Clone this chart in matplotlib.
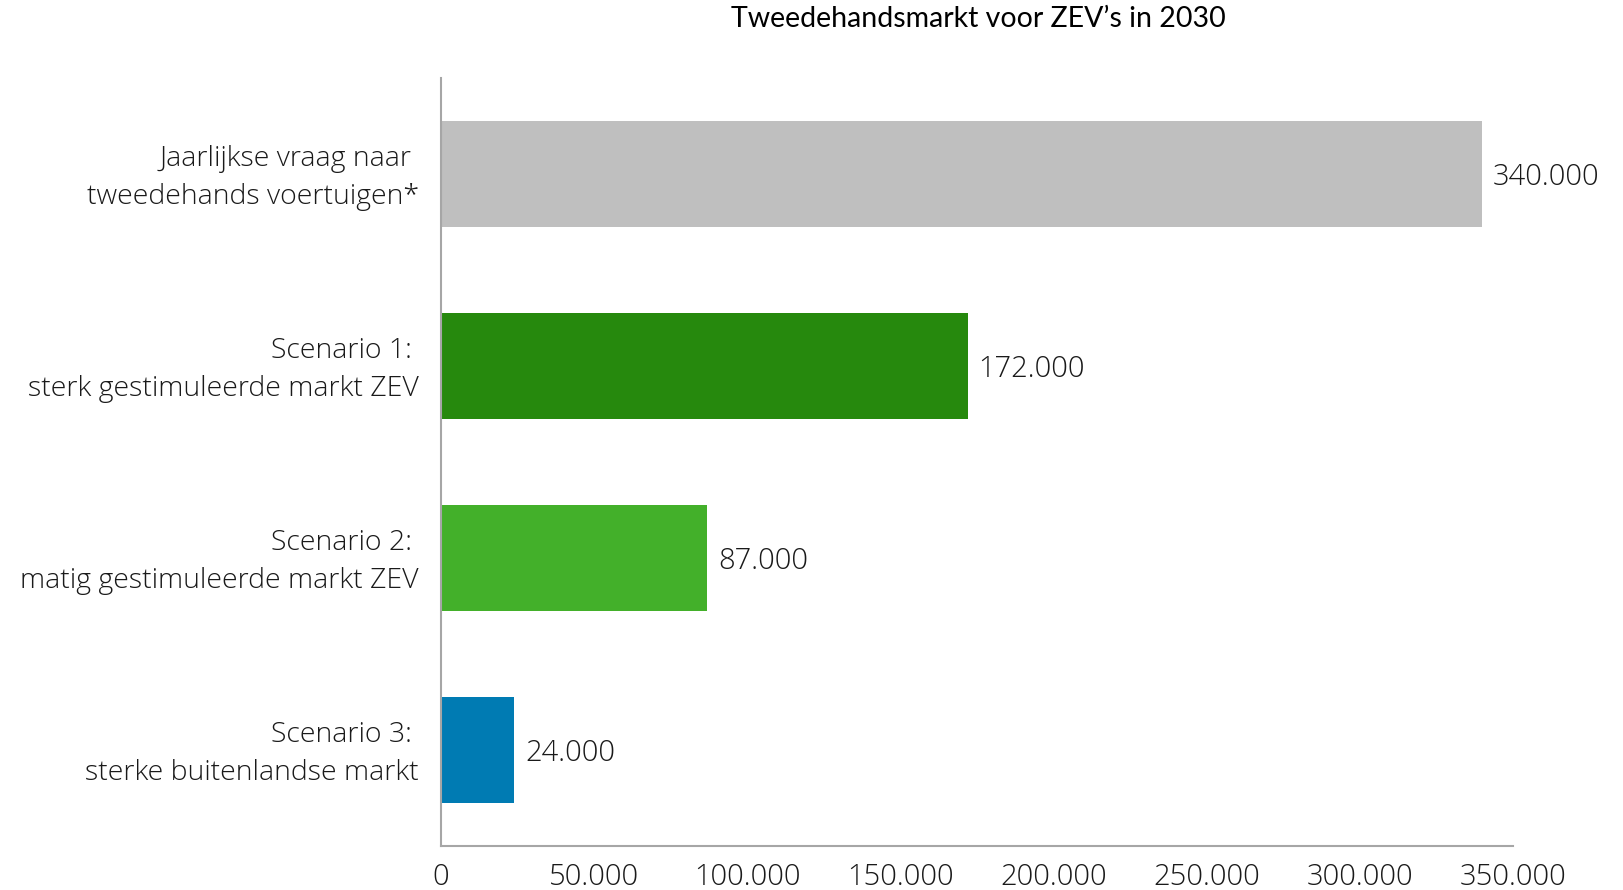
import matplotlib
matplotlib.use("Agg")
import matplotlib.pyplot as plt
import matplotlib.transforms as mtransforms
from matplotlib.ticker import FuncFormatter

categories = [
    "Jaarlijkse vraag naar \ntweedehands voertuigen*",
    "Scenario 1: \nsterk gestimuleerde markt ZEV",
    "Scenario 2: \nmatig gestimuleerde markt ZEV",
    "Scenario 3: \nsterke buitenlandse markt",
]
values = [340000, 172000, 87000, 24000]
value_labels = ["340.000", "172.000", "87.000", "24.000"]
colors = ["#BFBFBF", "#26890D", "#43B02A", "#007BB3"]
xticks = [0, 50000, 100000, 150000, 200000, 250000, 300000, 350000]
title = "Tweedehandsmarkt voor ZEV\u2019s in 2030"

plt.rcParams['font.family'] = ['Open Sans', 'DejaVu Sans']

fig = plt.figure(figsize=(16.23, 8.90), dpi=100)
ax = fig.add_axes([0.2717, 0.0494, 0.9322 - 0.2717, 0.9124 - 0.0494])

ypos = list(range(len(categories)))
ax.barh(ypos, values, height=0.555, color=colors, zorder=2)
for y, v, lab in zip(ypos, values, value_labels):
    ax.annotate(lab, (v, y), xytext=(7.5, -2.5), textcoords="offset points",
                ha="left", va="center", fontsize=21, color="#1a1a1a", fontweight="light")

ax.set_ylim(3.5, -0.5)
ax.set_xlim(0, 350000)
ax.set_yticks(ypos)
ax.set_yticklabels([])
# category labels as text, positioned with the y-axis transform
lab_trans = ax.get_yaxis_transform() + mtransforms.ScaledTranslation(
    -22 / 100, -4 / 100, fig.dpi_scale_trans)
for y, cat in zip(ypos, categories):
    ax.text(0, y, cat, transform=lab_trans, ha="right", va="center",
            multialignment="right", fontsize=20.5, color="#1a1a1a",
            fontweight="light", linespacing=1.45)

ax.set_xticks(xticks)
ax.xaxis.set_major_formatter(FuncFormatter(lambda x, p: f"{int(x):,}".replace(",", ".")))
for t in ax.get_xticklabels():
    t.set_fontsize(21)
    t.set_color("#1a1a1a")
    t.set_fontweight("light")
ax.tick_params(axis="y", length=0, pad=16)
ax.tick_params(axis="x", length=0, pad=12)

for s in ["top", "right"]:
    ax.spines[s].set_visible(False)
for s in ["left", "bottom"]:
    ax.spines[s].set_color("#A6A6A6")
    ax.spines[s].set_linewidth(1.5)

fig.text(978 / 1623, 1 - 19 / 890, title, ha="center", va="center", fontsize=20.5,
         color="#000000", family=["Lato", "DejaVu Sans"])

fig.savefig("out.png", dpi=100)
